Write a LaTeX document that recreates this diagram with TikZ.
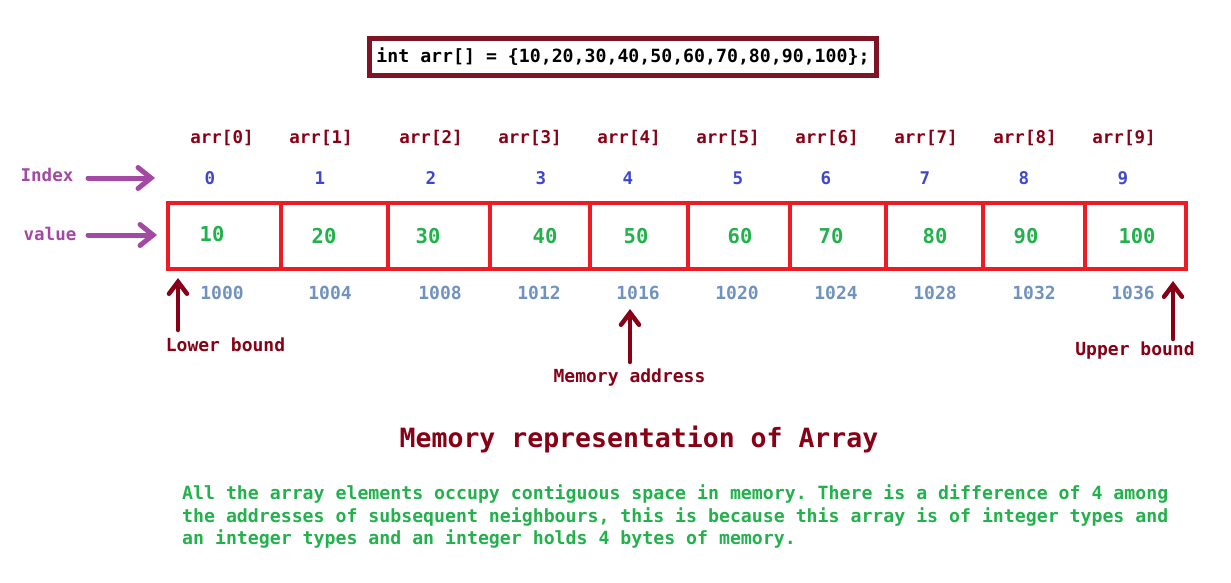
\documentclass[tikz,border=0pt]{standalone}
\usepackage{fontspec}
\setmonofont{DejaVu Sans Mono}
\usetikzlibrary{arrows.meta}
\definecolor{dred}{HTML}{880015}
\definecolor{codered}{HTML}{7F1426}
\definecolor{boxred}{HTML}{ED1C24}
\definecolor{vgreen}{HTML}{22B14C}
\definecolor{iblue}{HTML}{3F48CC}
\definecolor{addrblue}{HTML}{7092BE}
\definecolor{purp}{HTML}{A349A4}
\newcommand\fsz[1]{\fontsize{#1}{#1}\selectfont}
\begin{document}
\begin{tikzpicture}[x=1pt,y=-1pt,
  txt/.style={inner sep=0pt,anchor=base,font=\ttfamily\bfseries\fsz{18}},
  arrlab/.style={txt,text=dred,font=\ttfamily\bfseries\fsz{17.5}},
  idxnum/.style={txt,text=iblue,font=\ttfamily\bfseries\fsz{17.5}},
  valnum/.style={txt,text=vgreen,font=\ttfamily\bfseries\fsz{20.5}},
  addr/.style={txt,text=addrblue,font=\ttfamily\bfseries\fsz{18}},
  cell/.style={draw=boxred,line width=4.5pt,minimum height=66pt,inner sep=0pt},
  parrow/.style={draw=purp,line width=5pt,line cap=round,
    -{Straight Barb[length=13pt,width=21pt,line cap=round]}},
  rarrow/.style={draw=dred,line width=4.5pt,line cap=round,
    -{Straight Barb[length=12pt,width=18pt,line cap=round]}},
  side/.style={txt,text=purp,font=\ttfamily\bfseries\fsz{17.5}},
  note/.style={txt,text=dred},
  para/.style={txt,text=vgreen,anchor=base west,font=\ttfamily\bfseries\fsz{18.2}}
]
\useasboundingbox (0,0) rectangle (1231,582);

% declaration box
\node[draw=codered,line width=4.5pt,minimum width=507pt,minimum height=37pt,
  inner sep=0pt,font=\ttfamily\bfseries\fsz{18.2}] (code) at (623,57)
  {int arr[] = \{10,20,30,40,50,60,70,80,90,100\};};

% arr[i] labels
\foreach \x [count=\i from 0] in {222,321,431,530,629,728,827,926,1025,1124}
  \node[arrlab] (al\i) at (\x,143) {arr[\i]};

% index numbers
\foreach \x [count=\i from 0] in {210,320,431,541,628,738,826,925,1024,1123}
  \node[idxnum] (ix\i) at (\x,184) {\i};

% cells
\foreach \a/\b [count=\i from 0] in {168/281,281/388,388/490,490/590,590/688,688/790,790/886,886/983,983/1085,1085/1186}
  \node[cell,minimum width=\b-\a] (c\i) at ({(\a+\b)/2},236) {};

% values
\foreach \x/\v/\y [count=\i from 0] in {212/10/241,324/20/243,428/30/243,545/40/243,636/50/243,740/60/243,831/70/243,935/80/243,1026/90/243,1137/100/243}
  \node[valnum] (v\i) at (\x,\y) {\v};

% addresses
\foreach \x/\v [count=\i from 0] in {222/1000,330/1004,440/1008,539/1012,638/1016,737/1020,836/1024,935/1028,1034/1032,1133/1036}
  \node[addr] (ad\i) at (\x,299) {\v};

% side labels and arrows
\node[side] (index) at (47,181) {Index};
\node[side] (value) at (50,240) {value};
\coordinate (ia) at (88,178);
\coordinate (ib) at (155,178);
\coordinate (va) at (88,235);
\coordinate (vb) at (157,235);
\draw[parrow] (ia) -- (ib);
\draw[parrow] (va) -- (vb);

% bounds and address arrows
\node[note] (lower) at (225.5,351) {Lower bound};
\node[note] (memaddr) at (629.5,382) {Memory address};
\node[note] (upper) at (1135,355) {Upper bound};
\coordinate (la) at (178,330);
\coordinate (lb) at (178,278);
\coordinate (ma) at (630,362);
\coordinate (mb) at (630,309);
\coordinate (ua) at (1173,339);
\coordinate (ub) at (1173,281);
\draw[rarrow] (la) -- (lb);
\draw[rarrow] (ma) -- (mb);
\draw[rarrow] (ua) -- (ub);

% title
\node[txt,text=dred,font=\ttfamily\bfseries\fsz{26.5}] (title) at (639,447)
  {Memory representation of Array};

% paragraph
\node[para] (p1) at (182,499) {All the array elements occupy contiguous space in memory. There is a difference of 4 among};
\node[para] (p2) at (182,522) {the addresses of subsequent neighbours, this is because this array is of integer types and};
\node[para] (p3) at (182,544) {an integer types and an integer holds 4 bytes of memory.};
\end{tikzpicture}
\end{document}
